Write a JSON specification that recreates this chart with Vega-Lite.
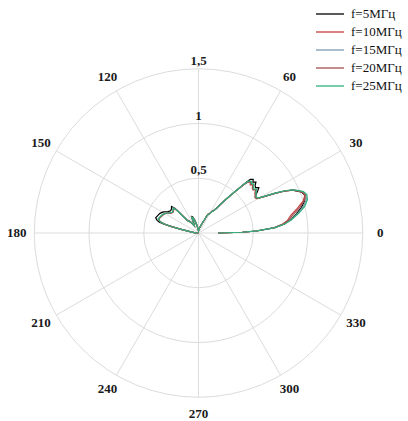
{
"$schema": "https://vega.github.io/schema/vega-lite/v6.json",
"width": 408, "height": 421, "padding": 0, "autosize": {"type": "none"},
"background": "white",
"config": {"view": {"stroke": null}, "font": "Liberation Serif"},
"datasets": {
"rings": [{"v": 0.5, "lab": "0,5"}, {"v": 1, "lab": "1"}, {"v": 1.5, "lab": "1,5"}],
"spokes": [{"a": 0, "txt": "0"}, {"a": 30, "txt": "30"}, {"a": 60, "txt": "60"}, {"a": 90, "txt": "90"}, {"a": 120, "txt": "120"}, {"a": 150, "txt": "150"}, {"a": 180, "txt": "180"}, {"a": 210, "txt": "210"}, {"a": 240, "txt": "240"}, {"a": 270, "txt": "270"}, {"a": 300, "txt": "300"}, {"a": 330, "txt": "330"}],
"curves": [
{"s":"5","t":0,"r":0.18},{"s":"5","t":1,"r":0.40},{"s":"5","t":2,"r":0.53},{"s":"5","t":4,"r":0.70},{"s":"5","t":6,"r":0.79},{"s":"5","t":8,"r":0.845},{"s":"5","t":11,"r":0.91},{"s":"5","t":14,"r":0.97},{"s":"5","t":17,"r":1.015},{"s":"5","t":19.5,"r":1.03},
{"s":"5","t":21.5,"r":1.015},{"s":"5","t":23,"r":0.98},{"s":"5","t":24.5,"r":0.945},{"s":"5","t":26,"r":0.875},{"s":"5","t":27.5,"r":0.785},{"s":"5","t":29,"r":0.69},{"s":"5","t":30.5,"r":0.625},{"s":"5","t":32,"r":0.615},{"s":"5","t":34,"r":0.635},{"s":"5","t":35.5,"r":0.665},
{"s":"5","t":37,"r":0.69},{"s":"5","t":38.5,"r":0.665},{"s":"5","t":40,"r":0.675},{"s":"5","t":41.5,"r":0.70},{"s":"5","t":43,"r":0.68},{"s":"5","t":44.5,"r":0.70},{"s":"5","t":46,"r":0.68},{"s":"5","t":47,"r":0.62},{"s":"5","t":48,"r":0.545},{"s":"5","t":49.5,"r":0.46},
{"s":"5","t":51,"r":0.39},{"s":"5","t":52.5,"r":0.33},{"s":"5","t":54,"r":0.28},{"s":"5","t":56,"r":0.245},{"s":"5","t":58,"r":0.235},{"s":"5","t":60,"r":0.205},{"s":"5","t":62,"r":0.20},{"s":"5","t":64,"r":0.18},{"s":"5","t":66,"r":0.13},{"s":"5","t":70,"r":0.09},
{"s":"5","t":78,"r":0.05},{"s":"5","t":90,"r":0.02},{"s":"5","t":100,"r":0.06},{"s":"5","t":106,"r":0.12},{"s":"5","t":110,"r":0.16},{"s":"5","t":113,"r":0.165},{"s":"5","t":116,"r":0.10},{"s":"5","t":120,"r":0.08},{"s":"5","t":125,"r":0.12},{"s":"5","t":129,"r":0.15},
{"s":"5","t":132,"r":0.16},{"s":"5","t":133.5,"r":0.31},{"s":"5","t":135.5,"r":0.345},{"s":"5","t":138.5,"r":0.33},{"s":"5","t":141.5,"r":0.325},{"s":"5","t":145,"r":0.34},{"s":"5","t":149,"r":0.375},{"s":"5","t":153,"r":0.395},{"s":"5","t":157,"r":0.405},{"s":"5","t":160.5,"r":0.415},
{"s":"5","t":163,"r":0.395},{"s":"5","t":164.5,"r":0.37},{"s":"5","t":165.5,"r":0.33},{"s":"5","t":166.5,"r":0.27},{"s":"5","t":168,"r":0.18},{"s":"5","t":170,"r":0.10},{"s":"5","t":174,"r":0.04},{"s":"5","t":180,"r":0.0},

{"s":"10","t":0,"r":0.18},{"s":"10","t":1,"r":0.40},{"s":"10","t":2,"r":0.53},{"s":"10","t":4,"r":0.69},{"s":"10","t":6,"r":0.77},{"s":"10","t":8,"r":0.82},{"s":"10","t":11,"r":0.86},{"s":"10","t":14,"r":0.93},{"s":"10","t":17,"r":1.0},{"s":"10","t":19.5,"r":1.03},
{"s":"10","t":21.5,"r":1.02},{"s":"10","t":23,"r":0.985},{"s":"10","t":24.5,"r":0.945},{"s":"10","t":26,"r":0.87},{"s":"10","t":27.5,"r":0.78},{"s":"10","t":29,"r":0.685},{"s":"10","t":30.5,"r":0.62},{"s":"10","t":32,"r":0.61},{"s":"10","t":34,"r":0.625},{"s":"10","t":35.5,"r":0.635},
{"s":"10","t":37,"r":0.655},{"s":"10","t":38.5,"r":0.635},{"s":"10","t":40,"r":0.64},{"s":"10","t":41.5,"r":0.665},{"s":"10","t":43,"r":0.645},{"s":"10","t":44.5,"r":0.665},{"s":"10","t":46,"r":0.645},{"s":"10","t":47,"r":0.60},{"s":"10","t":48,"r":0.53},{"s":"10","t":49.5,"r":0.455},
{"s":"10","t":51,"r":0.385},{"s":"10","t":52.5,"r":0.33},{"s":"10","t":54,"r":0.28},{"s":"10","t":56,"r":0.245},{"s":"10","t":58,"r":0.235},{"s":"10","t":60,"r":0.205},{"s":"10","t":62,"r":0.20},{"s":"10","t":64,"r":0.18},{"s":"10","t":66,"r":0.13},{"s":"10","t":70,"r":0.09},
{"s":"10","t":78,"r":0.05},{"s":"10","t":90,"r":0.02},{"s":"10","t":100,"r":0.06},{"s":"10","t":106,"r":0.115},{"s":"10","t":110,"r":0.15},{"s":"10","t":113,"r":0.155},{"s":"10","t":116,"r":0.095},{"s":"10","t":120,"r":0.075},{"s":"10","t":125,"r":0.11},{"s":"10","t":129,"r":0.14},
{"s":"10","t":132,"r":0.15},{"s":"10","t":133.5,"r":0.29},{"s":"10","t":135.5,"r":0.32},{"s":"10","t":138.5,"r":0.305},{"s":"10","t":141.5,"r":0.30},{"s":"10","t":145,"r":0.315},{"s":"10","t":149,"r":0.35},{"s":"10","t":153,"r":0.365},{"s":"10","t":157,"r":0.375},{"s":"10","t":160.5,"r":0.385},
{"s":"10","t":163,"r":0.37},{"s":"10","t":164.5,"r":0.345},{"s":"10","t":165.5,"r":0.31},{"s":"10","t":166.5,"r":0.25},{"s":"10","t":168,"r":0.17},{"s":"10","t":170,"r":0.095},{"s":"10","t":174,"r":0.04},{"s":"10","t":180,"r":0.0},

{"s":"15","t":0,"r":0.18},{"s":"15","t":1,"r":0.40},{"s":"15","t":2,"r":0.53},{"s":"15","t":4,"r":0.70},{"s":"15","t":6,"r":0.785},{"s":"15","t":8,"r":0.85},{"s":"15","t":11,"r":0.92},{"s":"15","t":14,"r":0.985},{"s":"15","t":17,"r":1.03},{"s":"15","t":19.5,"r":1.04},
{"s":"15","t":21.5,"r":1.025},{"s":"15","t":23,"r":0.99},{"s":"15","t":24.5,"r":0.95},{"s":"15","t":26,"r":0.88},{"s":"15","t":27.5,"r":0.79},{"s":"15","t":29,"r":0.69},{"s":"15","t":30.5,"r":0.625},{"s":"15","t":32,"r":0.615},{"s":"15","t":34,"r":0.63},{"s":"15","t":35.5,"r":0.64},
{"s":"15","t":37,"r":0.66},{"s":"15","t":38.5,"r":0.64},{"s":"15","t":40,"r":0.65},{"s":"15","t":41.5,"r":0.67},{"s":"15","t":43,"r":0.655},{"s":"15","t":44.5,"r":0.67},{"s":"15","t":46,"r":0.655},{"s":"15","t":47,"r":0.605},{"s":"15","t":48,"r":0.535},{"s":"15","t":49.5,"r":0.455},
{"s":"15","t":51,"r":0.385},{"s":"15","t":52.5,"r":0.33},{"s":"15","t":54,"r":0.28},{"s":"15","t":56,"r":0.245},{"s":"15","t":58,"r":0.23},{"s":"15","t":60,"r":0.205},{"s":"15","t":62,"r":0.195},{"s":"15","t":64,"r":0.175},{"s":"15","t":66,"r":0.13},{"s":"15","t":70,"r":0.09},
{"s":"15","t":78,"r":0.05},{"s":"15","t":90,"r":0.02},{"s":"15","t":100,"r":0.06},{"s":"15","t":106,"r":0.115},{"s":"15","t":110,"r":0.15},{"s":"15","t":113,"r":0.155},{"s":"15","t":116,"r":0.095},{"s":"15","t":120,"r":0.075},{"s":"15","t":125,"r":0.115},{"s":"15","t":129,"r":0.14},
{"s":"15","t":132,"r":0.15},{"s":"15","t":133.5,"r":0.29},{"s":"15","t":135.5,"r":0.325},{"s":"15","t":138.5,"r":0.31},{"s":"15","t":141.5,"r":0.305},{"s":"15","t":145,"r":0.32},{"s":"15","t":149,"r":0.35},{"s":"15","t":153,"r":0.37},{"s":"15","t":157,"r":0.38},{"s":"15","t":160.5,"r":0.39},
{"s":"15","t":163,"r":0.372},{"s":"15","t":164.5,"r":0.348},{"s":"15","t":165.5,"r":0.31},{"s":"15","t":166.5,"r":0.255},{"s":"15","t":168,"r":0.17},{"s":"15","t":170,"r":0.095},{"s":"15","t":174,"r":0.04},{"s":"15","t":180,"r":0.0},

{"s":"20","t":0,"r":0.18},{"s":"20","t":1,"r":0.40},{"s":"20","t":2,"r":0.53},{"s":"20","t":4,"r":0.69},{"s":"20","t":6,"r":0.775},{"s":"20","t":8,"r":0.83},{"s":"20","t":11,"r":0.88},{"s":"20","t":14,"r":0.95},{"s":"20","t":17,"r":1.01},{"s":"20","t":19.5,"r":1.035},
{"s":"20","t":21.5,"r":1.02},{"s":"20","t":23,"r":0.985},{"s":"20","t":24.5,"r":0.945},{"s":"20","t":26,"r":0.875},{"s":"20","t":27.5,"r":0.785},{"s":"20","t":29,"r":0.69},{"s":"20","t":30.5,"r":0.62},{"s":"20","t":32,"r":0.61},{"s":"20","t":34,"r":0.625},{"s":"20","t":35.5,"r":0.635},
{"s":"20","t":37,"r":0.655},{"s":"20","t":38.5,"r":0.635},{"s":"20","t":40,"r":0.645},{"s":"20","t":41.5,"r":0.665},{"s":"20","t":43,"r":0.65},{"s":"20","t":44.5,"r":0.665},{"s":"20","t":46,"r":0.645},{"s":"20","t":47,"r":0.60},{"s":"20","t":48,"r":0.53},{"s":"20","t":49.5,"r":0.455},
{"s":"20","t":51,"r":0.385},{"s":"20","t":52.5,"r":0.33},{"s":"20","t":54,"r":0.28},{"s":"20","t":56,"r":0.245},{"s":"20","t":58,"r":0.235},{"s":"20","t":60,"r":0.205},{"s":"20","t":62,"r":0.20},{"s":"20","t":64,"r":0.18},{"s":"20","t":66,"r":0.13},{"s":"20","t":70,"r":0.09},
{"s":"20","t":78,"r":0.05},{"s":"20","t":90,"r":0.02},{"s":"20","t":100,"r":0.06},{"s":"20","t":106,"r":0.115},{"s":"20","t":110,"r":0.15},{"s":"20","t":113,"r":0.155},{"s":"20","t":116,"r":0.095},{"s":"20","t":120,"r":0.075},{"s":"20","t":125,"r":0.11},{"s":"20","t":129,"r":0.14},
{"s":"20","t":132,"r":0.15},{"s":"20","t":133.5,"r":0.29},{"s":"20","t":135.5,"r":0.32},{"s":"20","t":138.5,"r":0.305},{"s":"20","t":141.5,"r":0.30},{"s":"20","t":145,"r":0.315},{"s":"20","t":149,"r":0.35},{"s":"20","t":153,"r":0.365},{"s":"20","t":157,"r":0.375},{"s":"20","t":160.5,"r":0.385},
{"s":"20","t":163,"r":0.37},{"s":"20","t":164.5,"r":0.345},{"s":"20","t":165.5,"r":0.31},{"s":"20","t":166.5,"r":0.25},{"s":"20","t":168,"r":0.17},{"s":"20","t":170,"r":0.095},{"s":"20","t":174,"r":0.04},{"s":"20","t":180,"r":0.0},

{"s":"25","t":0,"r":0.18},{"s":"25","t":1,"r":0.40},{"s":"25","t":2,"r":0.535},{"s":"25","t":4,"r":0.70},{"s":"25","t":6,"r":0.79},{"s":"25","t":8,"r":0.855},{"s":"25","t":11,"r":0.93},{"s":"25","t":14,"r":1.0},{"s":"25","t":17,"r":1.04},{"s":"25","t":19.5,"r":1.05},
{"s":"25","t":21.5,"r":1.03},{"s":"25","t":23,"r":0.99},{"s":"25","t":24.5,"r":0.95},{"s":"25","t":26,"r":0.88},{"s":"25","t":27.5,"r":0.79},{"s":"25","t":29,"r":0.695},{"s":"25","t":30.5,"r":0.63},{"s":"25","t":32,"r":0.62},{"s":"25","t":34,"r":0.635},{"s":"25","t":35.5,"r":0.645},
{"s":"25","t":37,"r":0.665},{"s":"25","t":38.5,"r":0.645},{"s":"25","t":40,"r":0.655},{"s":"25","t":41.5,"r":0.675},{"s":"25","t":43,"r":0.66},{"s":"25","t":44.5,"r":0.675},{"s":"25","t":46,"r":0.66},{"s":"25","t":47,"r":0.61},{"s":"25","t":48,"r":0.54},{"s":"25","t":49.5,"r":0.46},
{"s":"25","t":51,"r":0.39},{"s":"25","t":52.5,"r":0.33},{"s":"25","t":54,"r":0.28},{"s":"25","t":56,"r":0.245},{"s":"25","t":58,"r":0.23},{"s":"25","t":60,"r":0.205},{"s":"25","t":62,"r":0.195},{"s":"25","t":64,"r":0.175},{"s":"25","t":66,"r":0.13},{"s":"25","t":70,"r":0.09},
{"s":"25","t":78,"r":0.05},{"s":"25","t":90,"r":0.02},{"s":"25","t":100,"r":0.06},{"s":"25","t":106,"r":0.115},{"s":"25","t":110,"r":0.15},{"s":"25","t":113,"r":0.155},{"s":"25","t":116,"r":0.095},{"s":"25","t":120,"r":0.075},{"s":"25","t":125,"r":0.115},{"s":"25","t":129,"r":0.14},
{"s":"25","t":132,"r":0.15},{"s":"25","t":133.5,"r":0.29},{"s":"25","t":135.5,"r":0.325},{"s":"25","t":138.5,"r":0.31},{"s":"25","t":141.5,"r":0.305},{"s":"25","t":145,"r":0.32},{"s":"25","t":149,"r":0.35},{"s":"25","t":153,"r":0.37},{"s":"25","t":157,"r":0.38},{"s":"25","t":160.5,"r":0.39},
{"s":"25","t":163,"r":0.372},{"s":"25","t":164.5,"r":0.348},{"s":"25","t":165.5,"r":0.31},{"s":"25","t":166.5,"r":0.255},{"s":"25","t":168,"r":0.17},{"s":"25","t":170,"r":0.095},{"s":"25","t":174,"r":0.04},{"s":"25","t":180,"r":0.0}
]
},
"layer": [
{
"data": {"name": "rings"},
"transform": [{"calculate": "0", "as": "o"}],
"mark": {"type": "point", "shape": "circle", "filled": false, "color": "#dcdcdc", "strokeWidth": 1, "opacity": 1},
"encoding": {
"x": {"field": "o", "type": "quantitative", "scale": {"domain": [-1.8128, 1.9132], "nice": false, "zero": false}, "axis": null},
"y": {"field": "o", "type": "quantitative", "scale": {"domain": [-1.7169, 2.1279], "nice": false, "zero": false}, "axis": null},
"size": {"field": "v", "type": "quantitative", "scale": {"type": "pow", "exponent": 2, "domain": [0, 1.5], "range": [0, 107912]}, "legend": null}
}
},
{
"data": {"name": "spokes"},
"transform": [{"calculate": "0", "as": "o"}, {"calculate": "1.5*cos(datum.a*PI/180)", "as": "gx"}, {"calculate": "1.5*sin(datum.a*PI/180)", "as": "gy"}],
"mark": {"type": "rule", "color": "#dcdcdc", "strokeWidth": 1},
"encoding": {
"x": {"field": "o", "type": "quantitative", "scale": {"domain": [-1.8128, 1.9132], "nice": false, "zero": false}, "axis": null},
"y": {"field": "o", "type": "quantitative", "scale": {"domain": [-1.7169, 2.1279], "nice": false, "zero": false}, "axis": null},
"x2": {"field": "gx"},
"y2": {"field": "gy"}
}
},
{
"data": {"name": "spokes"},
"transform": [{"calculate": "1.66*cos(datum.a*PI/180)", "as": "lx"}, {"calculate": "1.65*sin(datum.a*PI/180)", "as": "ly"}, {"filter": "datum.a != 90"}],
"mark": {"type": "text", "font": "Liberation Serif", "fontWeight": "bold", "fontSize": 13, "color": "#1a1a1a", "align": "center", "baseline": "middle"},
"encoding": {
"x": {"field": "lx", "type": "quantitative", "scale": {"domain": [-1.8128, 1.9132], "nice": false, "zero": false}, "axis": null},
"y": {"field": "ly", "type": "quantitative", "scale": {"domain": [-1.7169, 2.1279], "nice": false, "zero": false}, "axis": null},
"text": {"field": "txt", "type": "nominal"}
}
},
{
"data": {"name": "rings"},
"transform": [{"calculate": "0", "as": "o"}],
"mark": {"type": "text", "font": "Liberation Serif", "fontWeight": "bold", "fontSize": 13, "color": "#1a1a1a", "align": "center", "baseline": "alphabetic", "dy": -4},
"encoding": {
"x": {"field": "o", "type": "quantitative", "scale": {"domain": [-1.8128, 1.9132], "nice": false, "zero": false}, "axis": null},
"y": {"field": "v", "type": "quantitative", "scale": {"domain": [-1.7169, 2.1279], "nice": false, "zero": false}, "axis": null},
"text": {"field": "lab", "type": "nominal"}
}
},
{
"data": {"name": "curves"},
"transform": [{"calculate": "datum.r*cos(datum.t*PI/180)", "as": "cx"}, {"calculate": "datum.r*sin(datum.t*PI/180)", "as": "cy"}],
"mark": {"type": "line", "strokeWidth": 1.2, "interpolate": "linear"},
"encoding": {
"x": {"field": "cx", "type": "quantitative", "scale": {"domain": [-1.8128, 1.9132], "nice": false, "zero": false}, "axis": null},
"y": {"field": "cy", "type": "quantitative", "scale": {"domain": [-1.7169, 2.1279], "nice": false, "zero": false}, "axis": null},
"order": {"field": "t", "type": "quantitative"},
"color": {"field": "s", "type": "nominal",
"scale": {"domain": ["5", "10", "15", "20", "25"], "range": ["#000000", "#c8403c", "#7a9ab0", "#a05050", "#30b07a"]},
"legend": {"orient": "none", "legendX": 319, "legendY": 3, "title": null, "padding": 0, "symbolType": "M-1.4,0H1.4", "symbolSize": 400, "symbolStrokeWidth": 1.3, "labelFont": "Liberation Serif", "labelFontSize": 13, "labelColor": "#111", "labelOffset": 10, "rowPadding": 0, "labelExpr": "'f=' + datum.label + 'МГц'"}
}
}
}
]
}
